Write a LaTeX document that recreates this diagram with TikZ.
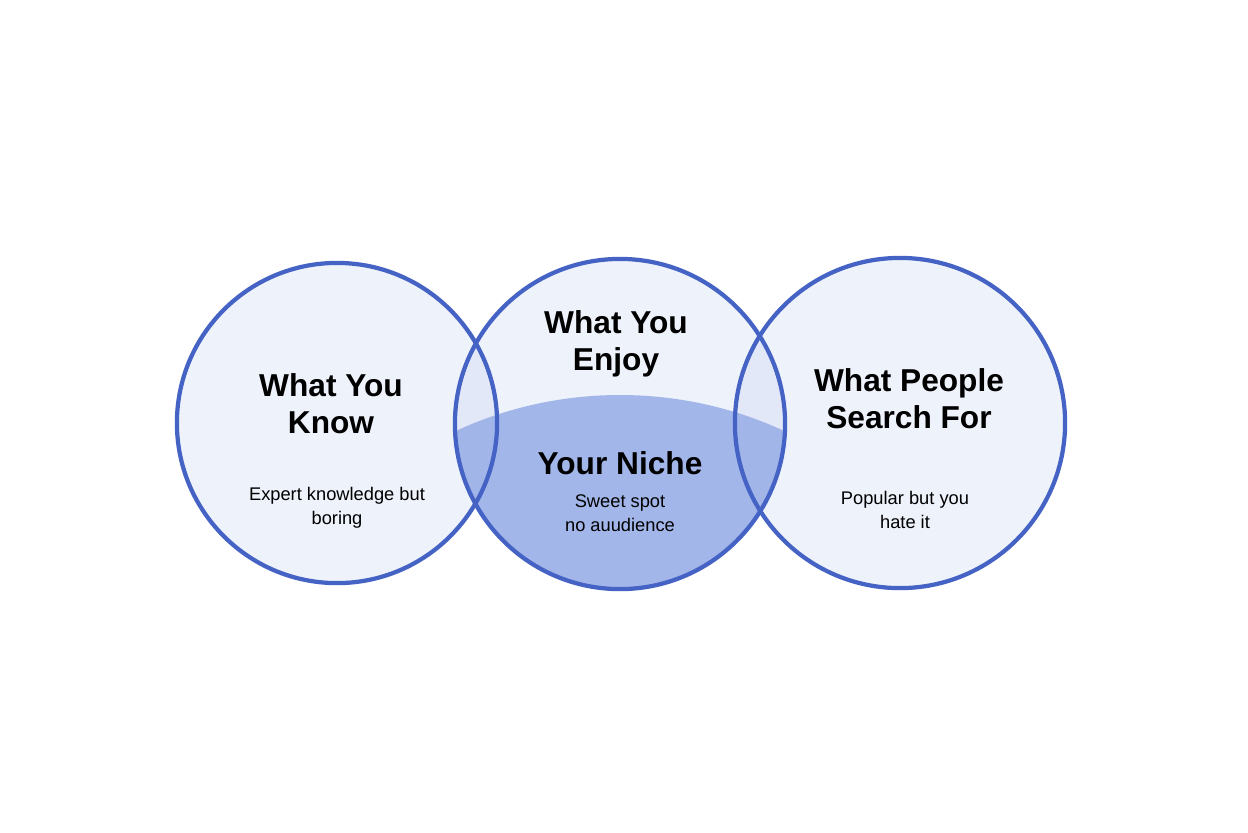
\documentclass[tikz,border=0pt]{standalone}
\usepackage{fontspec}
\setmainfont{Liberation Sans}
\usepackage{tikz}

\definecolor{ringblue}{HTML}{4563C4}
\definecolor{paleblue}{HTML}{C9D4F2}
\definecolor{nicheblue}{HTML}{9AB0E8}

\begin{document}
\begin{tikzpicture}[x=0.01cm,y=-0.01cm]
\useasboundingbox (0,0) rectangle (1248,832);
\fill[white] (0,0) rectangle (1248,832);
\tikzset{ring/.style={draw=ringblue,line width=1.2pt},
  title/.style={font=\bfseries\fontsize{9}{10.5}\selectfont,align=center},
  note/.style={font=\fontsize{5.2}{6.8}\selectfont,align=center}}

% soft fills, overlapping areas get darker
\fill[paleblue,fill opacity=0.3] (337,423) circle (160);
\fill[paleblue,fill opacity=0.3] (620,424) circle (165);
\fill[paleblue,fill opacity=0.3] (900,423) circle (165);
\begin{scope}
  \clip (620,424) circle (165);
  \fill[nicheblue,fill opacity=0.9] (620,787) circle (392);
\end{scope}

\node[ring,circle,minimum size=3.2cm,inner sep=0] (know) at (337,423) {};
\node[ring,circle,minimum size=3.3cm,inner sep=0] (enjoy) at (620,424) {};
\node[ring,circle,minimum size=3.3cm,inner sep=0] (search) at (900,423) {};

\node[title] (t1) at (331,404) {What You\\Know};
\node[note] (s1) at (337,508) {Expert knowledge but\\boring};
\node[title] (t2) at (616,344) {What You\\Enjoy};
\node[title] (t3) at (620,463) {Your Niche};
\node[note] (s3) at (620,513) {Sweet spot\\no auudience};
\node[title] (t4) at (909,399) {What People\\Search For};
\node[note] (s4) at (905,510) {Popular but you\\hate it};
\end{tikzpicture}
\end{document}
